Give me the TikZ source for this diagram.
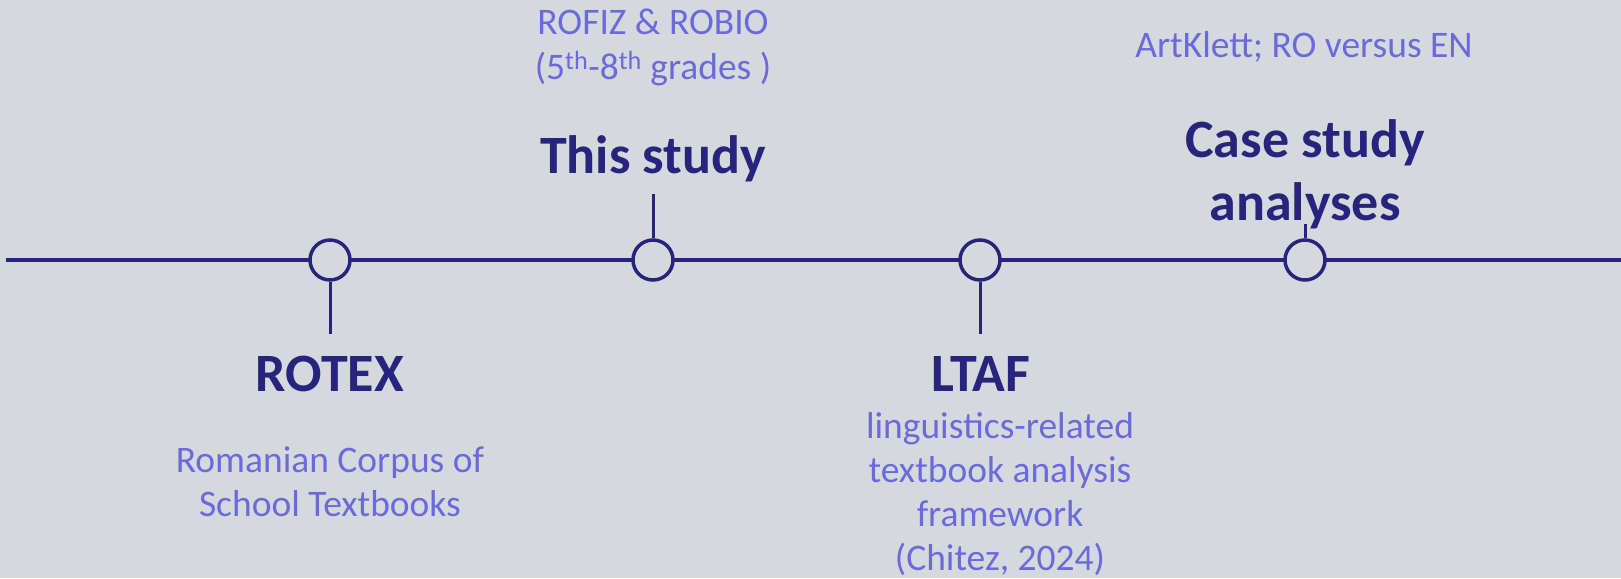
\documentclass[tikz,border=0pt]{standalone}
\usepackage{fontspec}
\setmainfont{Carlito}
\definecolor{bgcol}{RGB}{213,217,221}
\definecolor{navy}{RGB}{38,36,125}
\definecolor{lilac}{RGB}{106,106,220}
\begin{document}
\begin{tikzpicture}[x=1pt,y=-1pt,
		title/.style={text=navy,font=\fontsize{54}{63}\selectfont\bfseries,align=center,anchor=base,inner sep=0pt},
		note/.style={text=lilac,font=\fontsize{37.5}{44}\selectfont,align=center,anchor=base,inner sep=0pt},
		event/.style={circle,draw=navy,fill=bgcol,line width=3.5pt,minimum size=40pt,inner sep=0pt},
		stem/.style={draw=navy,line width=3pt}]
		\fill[bgcol] (0,0) rectangle (1621,578);
		\useasboundingbox (0,0) rectangle (1621,578);
		
		% the time axis
		\coordinate (start) at (6,260);
		\coordinate (end) at (1621,260);
		\draw[navy,line width=3.5pt] (start) -- (end);
		
		\foreach \x[count=\i] in {330,653,980,1305}{
			\node[event] (e\i) at (\x,260){};
		}
		
		\coordinate (s1) at (330,334);
		\coordinate (s2) at (653,194);
		\coordinate (s3) at (980,334);
		\coordinate (s4) at (1305,224);
		\draw[stem] (e1.south) -- (s1);
		\draw[stem] (e2.north) -- (s2);
		\draw[stem] (e3.south) -- (s3);
		\draw[stem] (e4.north) -- (s4);
		
		% labels (multi-line ones sit on their last baseline)
		\node[title] (rotex) at (330,391) {ROTEX};
		\node[note] (rotexnote) at (330,516) {Romanian Corpus of\\School Textbooks};
		
		\node[title] (study) at (653,173) {This study};
		\node[note] (studynote) at (653,79) {ROFIZ \& ROBIO\\(5\textsuperscript{th}-8\textsuperscript{th} grades )};
		
		\node[title] (ltaf) at (981,391) {LTAF};
		\node[note] (ltafnote) at (1000,570) {linguistics-related\\textbook analysis\\framework\\(Chitez, 2024)};
		
		\node[title] (cases) at (1305,220) {Case study\\analyses};
		\node[note] (casesnote) at (1304,57) {ArtKlett; RO versus EN};
		\end{tikzpicture}
\end{document}
